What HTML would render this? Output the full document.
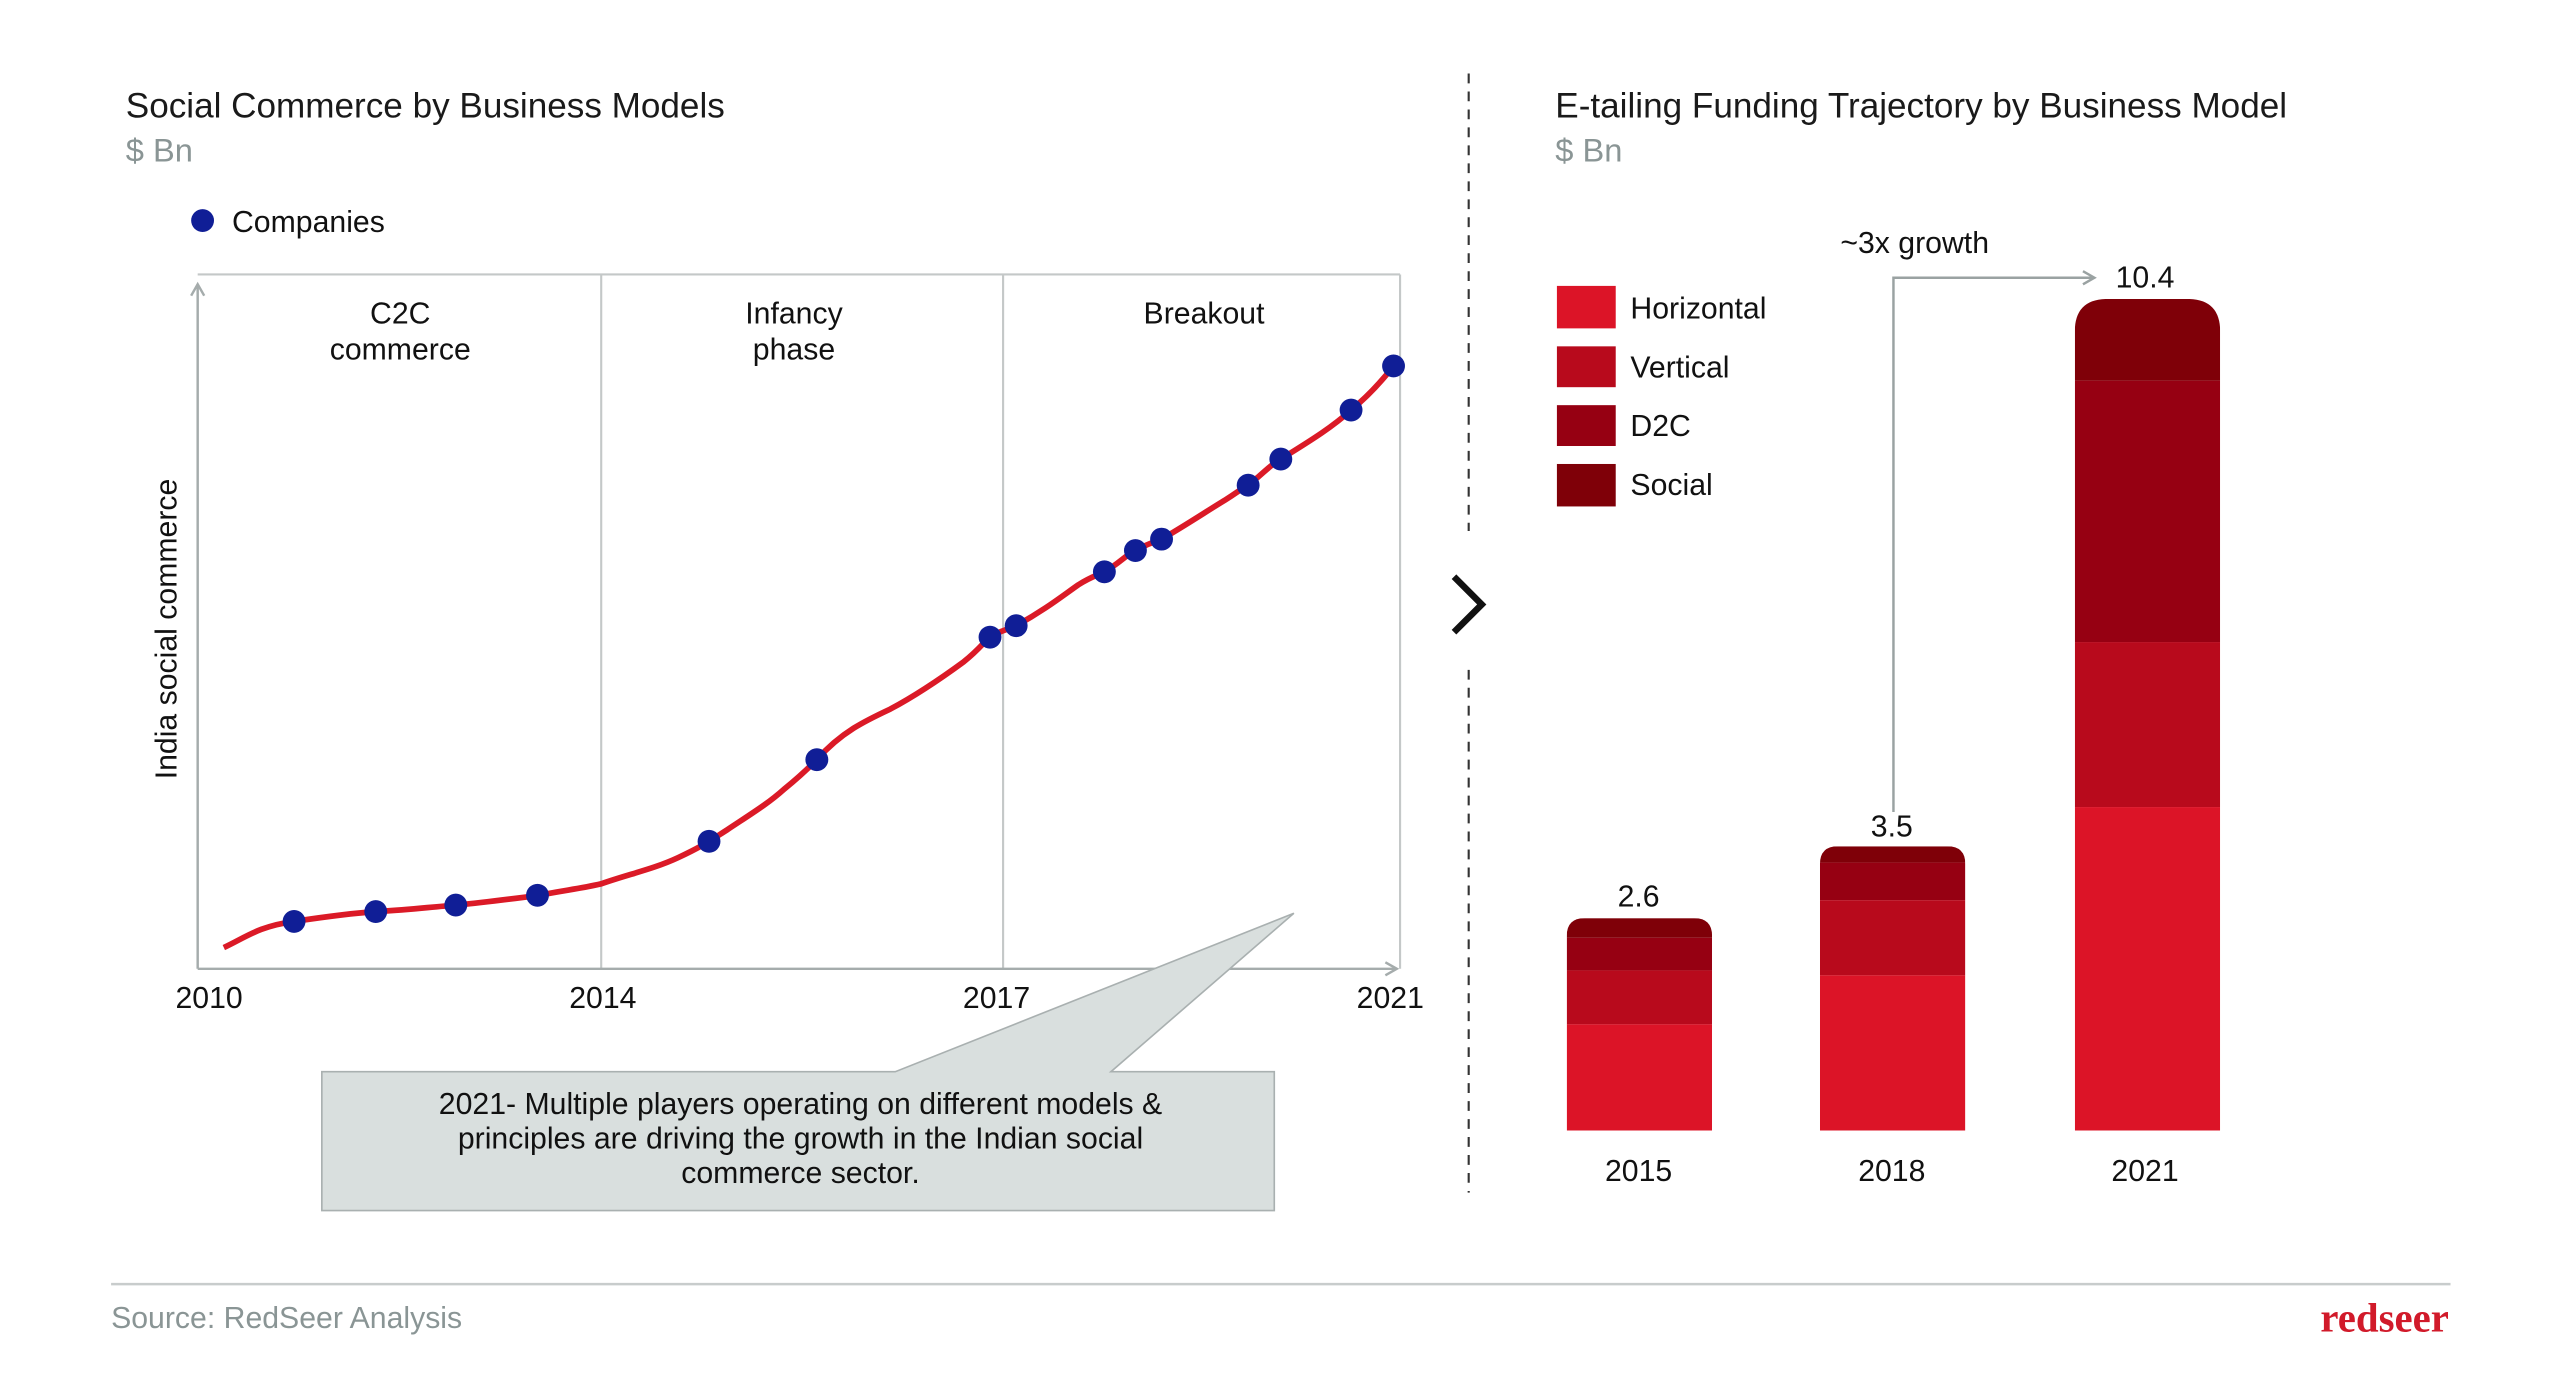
<!DOCTYPE html>
<html><head><meta charset="utf-8"><style>
html,body{margin:0;padding:0;background:#fff;}
svg{display:block;font-family:"Liberation Sans",sans-serif;}
</style></head><body>
<svg width="2560" height="1388" viewBox="0 0 1567 849.6" preserveAspectRatio="none" xmlns="http://www.w3.org/2000/svg">
<rect width="1567" height="850" fill="#fff"/>
<!-- Left chart -->
<text x="77" y="72" font-size="21.5" fill="#1a1a1a">Social Commerce by Business Models</text>
<text x="77" y="99" font-size="20" fill="#8a9595">$ Bn</text>
<circle cx="124" cy="135" r="7" fill="#101e96"/>
<text x="142" y="142" font-size="18.5" fill="#111">Companies</text>
<g stroke="#c4c8c8" stroke-width="1.3" fill="none">
<line x1="121" y1="168" x2="857" y2="168"/>
<line x1="857" y1="168" x2="857" y2="593"/>
<line x1="368" y1="168" x2="368" y2="593"/>
<line x1="614" y1="168" x2="614" y2="593"/>
</g>
<g stroke="#a5acac" stroke-width="1.5" fill="none">
<line x1="121" y1="174" x2="121" y2="593"/>
<polyline points="117,181 121,174 125,181"/>
<line x1="121" y1="593" x2="855" y2="593"/>
<polyline points="848,589 855,593 848,597"/>
</g>
<g font-size="18.5" fill="#111" text-anchor="middle">
<text x="245" y="198">C2C</text><text x="245" y="220">commerce</text>
<text x="486" y="198">Infancy</text><text x="486" y="220">phase</text>
<text x="737" y="198">Breakout</text>
<text x="128" y="617">2010</text><text x="369" y="617">2014</text>
<text x="610" y="617">2017</text><text x="851" y="617">2021</text>
<text transform="translate(108,385) rotate(-90)">India social commerce</text>
</g>
<path d="M137,580 C150,574 158,567 180,564 C200,561 215,559 230,558 C250,557 265,555 280,554 C300,552 315,550 330,548 C345,545 355,544 368,541 C385,535 400,532 415,525 C430,518 434,515 445,508 C460,498 470,492 480,483 C490,475 495,470 500,465 C515,448 530,441 545,434 C560,426 575,416 590,405 C600,397 603,392 606,390 C612,386 618,385 622,383 C640,373 650,365 660,358 C668,353 672,352 676,350 C685,345 690,339 695,337 C702,333 706,332 711,330 C725,322 740,312 750,306 C758,301 760,299 764,297 C772,291 778,284 784,281 C800,271 815,262 827,251 C838,242 846,233 853,224" fill="none" stroke="#db1a27" stroke-width="3.5"/>
<g fill="#101e96">
<circle cx="180" cy="564" r="7"/><circle cx="230" cy="558" r="7"/><circle cx="279" cy="554" r="7"/><circle cx="329" cy="548" r="7"/>
<circle cx="434" cy="515" r="7"/><circle cx="500" cy="465" r="7"/><circle cx="606" cy="390" r="7"/><circle cx="622" cy="383" r="7"/>
<circle cx="676" cy="350" r="7"/><circle cx="695" cy="337" r="7"/><circle cx="711" cy="330" r="7"/><circle cx="764" cy="297" r="7"/>
<circle cx="784" cy="281" r="7"/><circle cx="827" cy="251" r="7"/><circle cx="853" cy="224" r="7"/>
</g>
<!-- callout -->
<path d="M197,656 L548,656 L792,559 L680,656 L780,656 L780,741 L197,741 Z" fill="#d9dfde" stroke="#a9b0b0" stroke-width="1"/>
<g font-size="18.5" fill="#111" text-anchor="middle">
<text x="490" y="682">2021- Multiple players operating on different models &amp;</text>
<text x="490" y="703">principles are driving the growth in the Indian social</text>
<text x="490" y="724">commerce sector.</text>
</g>
<!-- divider -->
<line x1="899" y1="45" x2="899" y2="325" stroke="#333" stroke-width="1.3" stroke-dasharray="6,5"/>
<line x1="899" y1="410" x2="899" y2="730" stroke="#333" stroke-width="1.3" stroke-dasharray="6,5"/>
<polyline points="890,353 907,370 890,387" fill="none" stroke="#111" stroke-width="4"/>
<!-- Right chart -->
<text x="952" y="72" font-size="21.5" fill="#1a1a1a">E-tailing Funding Trajectory by Business Model</text>
<text x="952" y="99" font-size="20" fill="#8a9595">$ Bn</text>
<rect x="953" y="175" width="36" height="26" fill="#dc1427"/>
<rect x="953" y="212" width="36" height="25" fill="#b80a1c"/>
<rect x="953" y="248" width="36" height="25" fill="#960012"/>
<rect x="953" y="284" width="36" height="26" fill="#7f0008"/>
<g font-size="18.5" fill="#111">
<text x="998" y="195">Horizontal</text><text x="998" y="231">Vertical</text>
<text x="998" y="267">D2C</text><text x="998" y="303">Social</text>
</g>
<defs>
<clipPath id="c1"><path d="M959,692 V573 Q959,562 970,562 H1037 Q1048,562 1048,573 V692 Z"/></clipPath>
<clipPath id="c2"><path d="M1114,692 V529 Q1114,518 1125,518 H1192 Q1203,518 1203,529 V692 Z"/></clipPath>
<clipPath id="c3"><path d="M1270,692 V203 Q1270,183 1290,183 H1339 Q1359,183 1359,203 V692 Z"/></clipPath>
</defs>
<g clip-path="url(#c1)">
<rect x="959" y="562" width="89" height="12" fill="#7f0008"/>
<rect x="959" y="574" width="89" height="20" fill="#960012"/>
<rect x="959" y="594" width="89" height="33" fill="#b80a1c"/>
<rect x="959" y="627" width="89" height="65" fill="#dc1427"/>
</g>
<g clip-path="url(#c2)">
<rect x="1114" y="518" width="89" height="10" fill="#7f0008"/>
<rect x="1114" y="528" width="89" height="23" fill="#960012"/>
<rect x="1114" y="551" width="89" height="46" fill="#b80a1c"/>
<rect x="1114" y="597" width="89" height="95" fill="#dc1427"/>
</g>
<g clip-path="url(#c3)">
<rect x="1270" y="183" width="89" height="50" fill="#7f0008"/>
<rect x="1270" y="233" width="89" height="160" fill="#960012"/>
<rect x="1270" y="393" width="89" height="101" fill="#b80a1c"/>
<rect x="1270" y="494" width="89" height="198" fill="#dc1427"/>
</g>
<g font-size="18.5" fill="#111" text-anchor="middle">
<text x="1003" y="555">2.6</text><text x="1158" y="512">3.5</text><text x="1313" y="176">10.4</text>
<text x="1003" y="723">2015</text><text x="1158" y="723">2018</text><text x="1313" y="723">2021</text>
<text x="1172" y="155">~3x growth</text>
</g>
<polyline points="1159,497 1159,170 1281,170" fill="none" stroke="#9aa2a2" stroke-width="1.5"/>
<polyline points="1275,166 1282,170 1275,174" fill="none" stroke="#9aa2a2" stroke-width="1.5"/>
<!-- footer -->
<line x1="68" y1="786" x2="1500" y2="786" stroke="#c8cccc" stroke-width="1.5"/>
<text x="68" y="813" font-size="18.5" fill="#8a9595">Source: RedSeer Analysis</text>
<text x="1499" y="815" font-size="25" font-weight="bold" fill="#d11a2a" text-anchor="end" font-family="Liberation Serif, serif">redseer</text>
</svg>
</body></html>
